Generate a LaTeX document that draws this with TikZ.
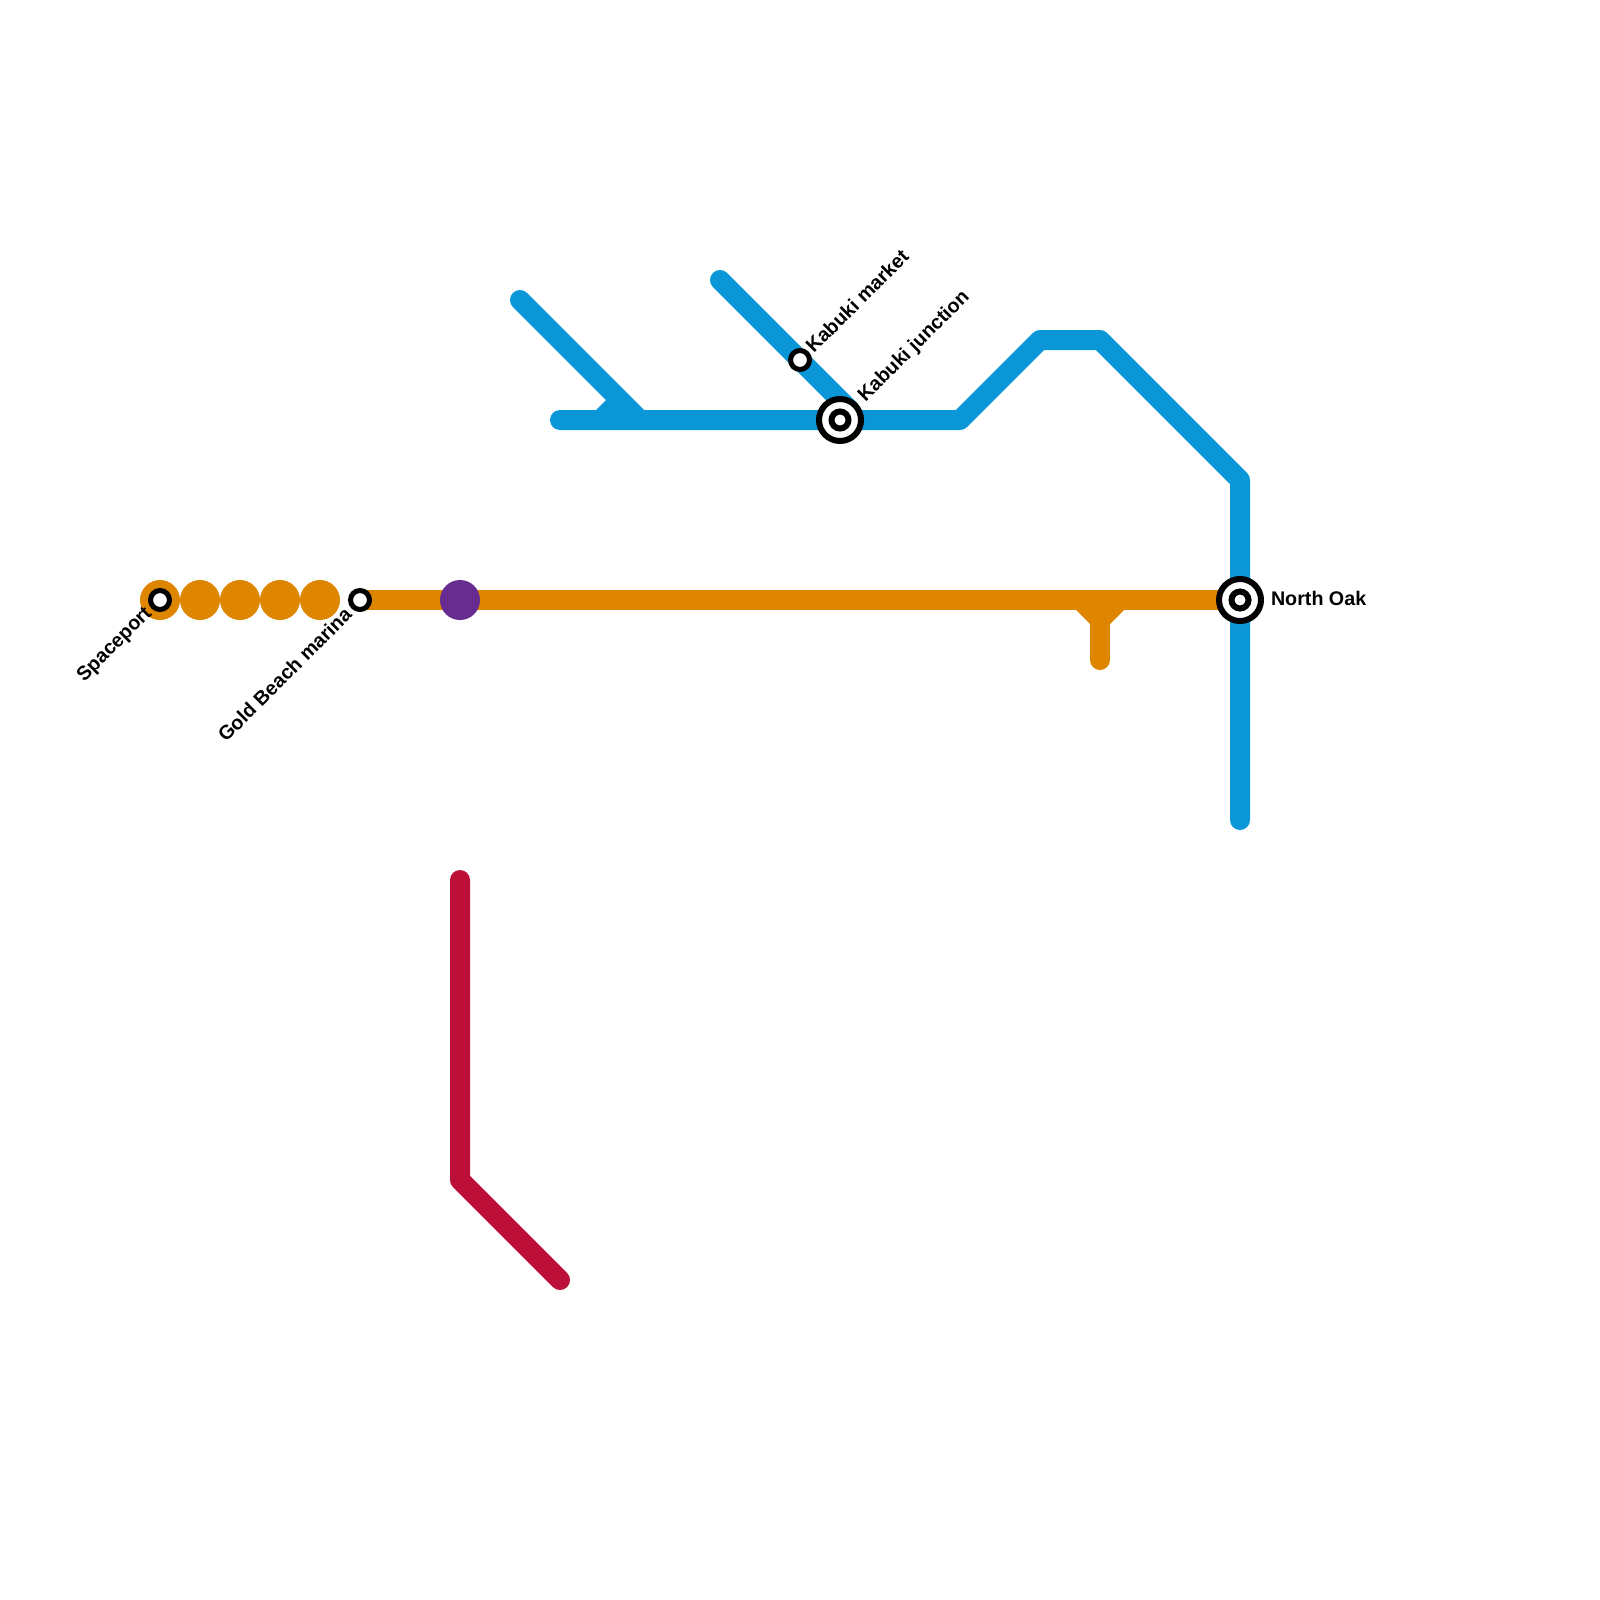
\documentclass[tikz,border=0pt]{standalone}
\usepackage{fontspec}
\setmainfont{Liberation Sans}
\definecolor{lblue}{HTML}{0A96D7}
\definecolor{lorange}{HTML}{DF8600}
\definecolor{lred}{HTML}{BD1038}
\definecolor{lpurple}{HTML}{662C90}
\tikzset{
  x=1pt,y=-1pt,
  metro/.style={line width=20pt,line cap=round,line join=round},
  bluel/.style={metro,draw=lblue},
  orangel/.style={metro,draw=lorange},
  redl/.style={metro,draw=lred},
  stoporange/.style={circle,fill=lorange,minimum size=40pt,inner sep=0pt,outer sep=0pt},
  stoppurple/.style={circle,fill=lpurple,minimum size=40pt,inner sep=0pt,outer sep=0pt},
  small/.style={circle,draw=black,fill=white,line width=5pt,minimum size=19pt,inner sep=0pt,outer sep=0pt},
  biginner/.style={circle,draw=black,fill=white,line width=6pt,minimum size=17pt,inner sep=0pt,outer sep=0pt},
  bigouter/.style={circle,draw=black,fill=white,line width=6pt,minimum size=42pt,inner sep=0pt,outer sep=0pt},
  lbl/.style={font=\fontsize{19.7}{22}\selectfont\bfseries,inner sep=0pt,outer sep=0pt,text=black},
}
\begin{document}
\begin{tikzpicture}
\useasboundingbox (0,0) rectangle (1600,1600);
% vertices
\coordinate (b1) at (560,420);
\coordinate (b2) at (960,420);
\coordinate (b3) at (1040,340);
\coordinate (b4) at (1100,340);
\coordinate (b5) at (1240,480);
\coordinate (b6) at (1240,820);
\coordinate (c1) at (520,300);
\coordinate (c2) at (640,420);
\coordinate (d1) at (720,280);
\coordinate (d2) at (850,410);
\coordinate (o1) at (360,600);
\coordinate (o2) at (1240,600);
\coordinate (o3) at (1100,600);
\coordinate (o4) at (1100,660);
\coordinate (r1) at (460,880);
\coordinate (r2) at (460,1180);
\coordinate (r3) at (560,1280);
% blue
\draw[bluel] (b1) -- (b2) -- (b3) -- (b4) -- (b5) -- (b6);
\draw[bluel] (c1) -- (c2);
\draw[bluel] (d1) -- (d2);
\fill[lblue] (596,410) -- (606,400) -- (630,400) -- (640,420) -- (596,420) -- cycle;
% red
\draw[redl] (r1) -- (r2) -- (r3);
% orange
\draw[orangel,line cap=butt] (o1) -- (o2);
\draw[orangel] (o3) -- (o4);
\fill[lorange] (1076,610) -- (1124,610) -- (1110,624) -- (1090,624) -- cycle;
% stops
\node[stoporange] (s1) at (160,600) {};
\node[stoporange] (s2) at (200,600) {};
\node[stoporange] (s3) at (240,600) {};
\node[stoporange] (s4) at (280,600) {};
\node[stoporange] (s5) at (320,600) {};
\node[stoppurple] (p1) at (460,600) {};
% stations
\node[small] (spaceport) at (160,600) {};
\node[small] (gold) at (360,600) {};
\node[small] (market) at (800,360) {};
\node[bigouter] (junction) at (840,420) {};
\node[biginner] (junctioni) at (840,420) {};
\node[bigouter] (oak) at (1240,600) {};
\node[biginner] (oaki) at (1240,600) {};
% labels
\node[lbl,rotate=45,anchor=east] (lspace) at (149,611) {Spaceport};
\node[lbl,rotate=45,anchor=east] (lgold) at (348,611) {Gold Beach marina};
\node[lbl,rotate=45,anchor=west] (lmarket) at (809,349) {Kabuki market};
\node[lbl,rotate=45,anchor=west] (ljunction) at (862,399) {Kabuki junction};
\node[lbl,anchor=west] (loak) at (1271,598) {North Oak};
\end{tikzpicture}
\end{document}
